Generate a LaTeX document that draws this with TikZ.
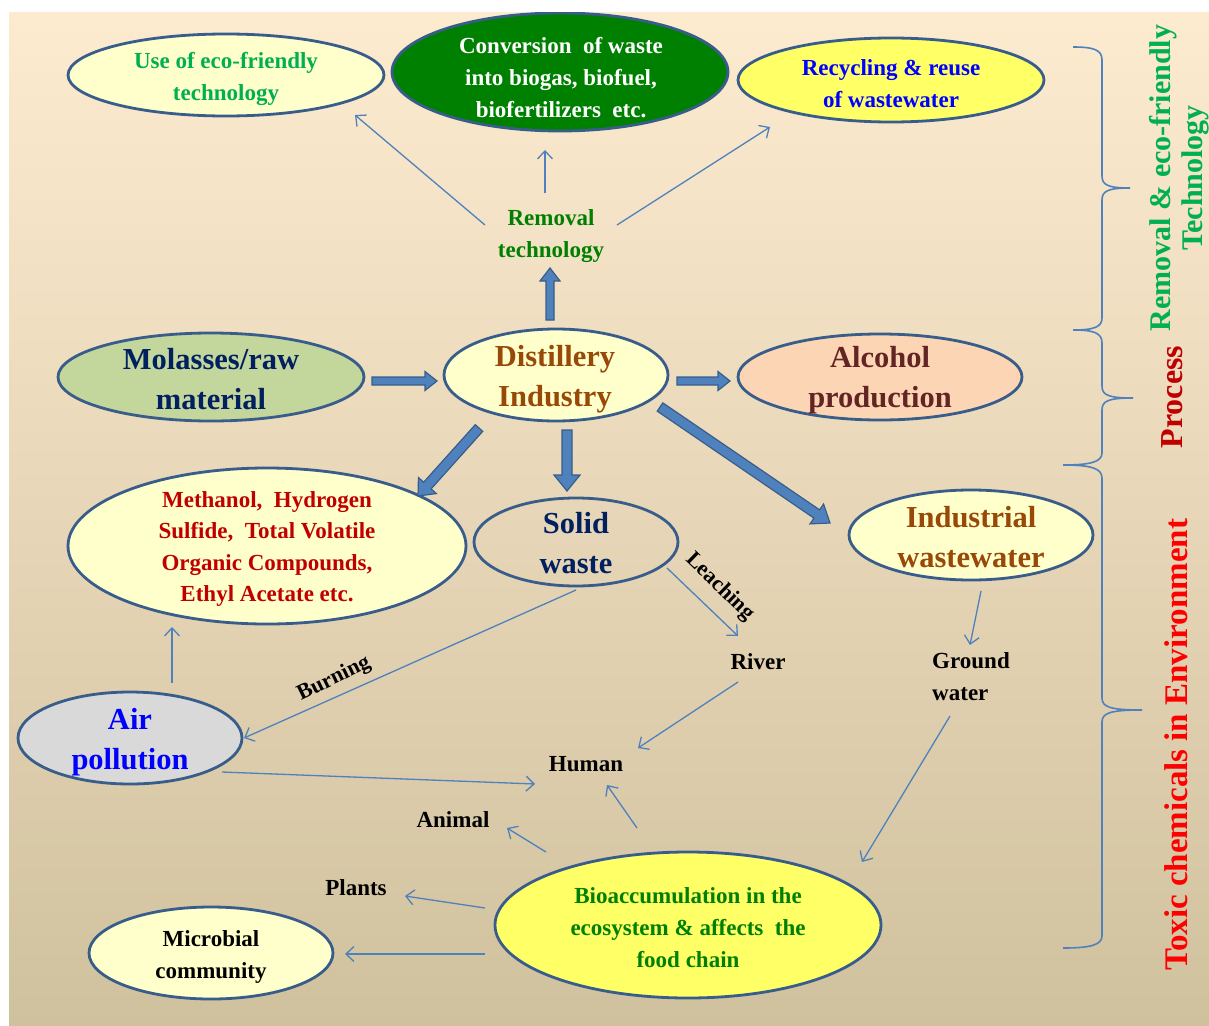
\documentclass[tikz,border=0pt]{standalone}
\usepackage{fontspec}
\setmainfont{Liberation Serif}
\usetikzlibrary{shapes.geometric,arrows.meta,calc}
\definecolor{lnc}{RGB}{79,129,189}
\definecolor{bord}{RGB}{56,93,138}
\definecolor{lyel}{RGB}{255,255,204}
\definecolor{yel}{RGB}{255,255,102}
\definecolor{dgreen}{RGB}{0,128,0}
\definecolor{ecog}{RGB}{0,176,80}
\definecolor{molg}{RGB}{195,214,155}
\definecolor{peach}{RGB}{252,213,181}
\definecolor{navyt}{RGB}{0,32,96}
\definecolor{brownd}{RGB}{152,72,7}
\definecolor{alct}{RGB}{99,37,35}
\definecolor{dred}{RGB}{192,0,0}
\definecolor{greyf}{RGB}{217,217,217}
\definecolor{bgtop}{RGB}{253,235,208}
\definecolor{bgmid}{RGB}{240,233,214}
\definecolor{bgbot}{RGB}{208,193,158}
\newcommand\fsA{\fontsize{23}{32}\selectfont\bfseries}
\newcommand\fsB{\fontsize{30.5}{40}\selectfont\bfseries}
\newcommand\fsC{\fontsize{22}{25}\selectfont\bfseries}
\newcommand\barrow[5]{%
  \path[barrowst] let \p1=(#1), \p2=(#2),
    \n1={atan2(\y2-\y1,\x2-\x1)},
    \n2={veclen(\x2-\x1,\y2-\y1)-#5pt},
    \n3={(#4-#3)*1pt} in
    ($(\p1)+(\n1+90:#3pt)$) -- ++(\n1:\n2) -- ++(\n1+90:\n3) -- (\p2)
    -- ($(\p1)+(\n1:\n2)+(\n1-90:#4pt)$) -- ++(\n1+90:\n3)
    -- ($(\p1)+(\n1-90:#3pt)$) -- cycle;}
\begin{document}
\begin{tikzpicture}[x=1pt,y=-1pt,
  ell/.style={ellipse, draw=bord, line width=2.8pt, inner sep=0pt},
  txt/.style={inner sep=0pt, align=center, font=\fsA},
  bigtxt/.style={inner sep=0pt, align=center, font=\fsB},
  thinarr/.style={draw=lnc, line width=1.3pt, -{Straight Barb[length=8pt,width=15pt]}},
  barrowst/.style={draw=bord, fill=lnc, line width=1.2pt, line join=miter},
  bracest/.style={draw=lnc, line width=1.6pt}]
\useasboundingbox (0,0) rectangle (1209,1025);
\fill[white] (0,0) rectangle (1209,1025);
\begin{scope}
\clip (9,13) rectangle (1209,1025);
\shade[top color=bgtop, middle color=bgmid, bottom color=bgbot] (9,13) rectangle (1209,1025);

% top ellipses
\node[ell, fill=lyel, minimum width=316pt, minimum height=82pt] (eco) at (226,75) {};
\node[txt, text=ecog] (ecot) at (226,79) {Use of eco-friendly\\technology};
\node[ell, fill=dgreen, minimum width=336pt, minimum height=118pt] (conv) at (560,72) {};
\node[txt, text=white] (convt) at (561,78) {Conversion~~of waste\\into biogas, biofuel,\\biofertilizers~~etc.};
\node[ell, fill=yel, minimum width=306pt, minimum height=84pt] (rec) at (891,80) {};
\node[txt, text=blue] (rect) at (891,84) {Recycling \& reuse\\of wastewater};
\node[txt, text=dgreen] (remt) at (551,236) {Removal\\technology};

% middle row
\node[ell, fill=molg, minimum width=306pt, minimum height=88pt] (mol) at (211,377) {};
\node[bigtxt, text=navyt] (molt) at (211,379) {Molasses/raw\\material};
\node[ell, fill=lyel, minimum width=224pt, minimum height=92pt] (dist) at (556,375) {};
\node[bigtxt, text=brownd] (distt) at (555,379) {Distillery\\Industry};
\node[ell, fill=peach, minimum width=284pt, minimum height=86pt] (alc) at (880,377) {};
\node[bigtxt, text=alct] (alct) at (880,380) {Alcohol\\production};

% lower
\node[ell, fill=lyel, minimum width=398pt, minimum height=156pt] (meth) at (267,546) {};
\node[txt, text=dred, font=\fontsize{23}{31.6}\selectfont\bfseries] (metht) at (267,549) {Methanol,~~Hydrogen\\Sulfide,~~Total Volatile\\Organic Compounds,\\Ethyl Acetate etc.};
\node[ell, minimum width=204pt, minimum height=88pt] (solid) at (576,542) {};
\node[bigtxt, text=navyt] (solidt) at (576,543) {Solid\\waste};
\node[ell, fill=lyel, minimum width=244pt, minimum height=90pt] (ind) at (971,535) {};
\node[bigtxt, text=brownd] (indt) at (971,537) {Industrial\\wastewater};
\node[ell, fill=greyf, minimum width=224pt, minimum height=92pt] (air) at (130,738) {};
\node[bigtxt, text=blue] (airt) at (130,742) {Air\\pollution};
\node[ell, fill=yel, minimum width=386pt, minimum height=146pt] (bio) at (688,925) {};
\node[txt, text=dgreen] (biot) at (688,928) {Bioaccumulation in the\\ecosystem \& affects~~the\\food chain};
\node[ell, fill=lyel, minimum width=244pt, minimum height=92pt] (mic) at (211,953) {};
\node[txt] (mict) at (211,957) {Microbial\\community};

\node[txt] (river) at (758,662) {River};
\node[txt, align=left] (ground) at (971,677) {Ground\\water};
\node[txt] (human) at (586,764) {Human};
\node[txt] (animal) at (453,820) {Animal};
\node[txt] (plants) at (356,888) {Plants};
\node[inner sep=0pt, font=\fsC, rotate=26] (burn) at (334,679) {Burning};
\node[inner sep=0pt, font=\fsC, rotate=-44] (leach) at (720,587) {Leaching};

% thin arrows
\draw[thinarr] ($(remt)+(-66,-11)$) -- ($(eco)+(129,40)$);
\draw[thinarr] ($(remt)+(-6,-43)$) -- ($(conv)+(-15,78)$);
\draw[thinarr] ($(remt)+(66,-11)$) -- ($(rec)+(-121,47)$);
\draw[thinarr] ($(air)+(42,-55)$) -- ($(meth)+(-95,81)$);
\draw[thinarr] ($(solid)+(0,48)$) -- ($(air)+(114,0)$);
\draw[thinarr] ($(solid)+(91,26)$) -- ($(river)+(-20,-26)$);
\draw[thinarr] ($(ind)+(10,56)$) -- ($(ground)+(-1,-32)$);
\draw[thinarr] ($(river)+(-20,20)$) -- ($(human)+(52,-16)$);
\draw[thinarr] ($(air)+(92,34)$) -- ($(human)+(-51,20)$);
\draw[thinarr] ($(ground)+(-21,39)$) -- ($(bio)+(174,-63)$);
\draw[thinarr] ($(bio)+(-51,-97)$) -- ($(human)+(21,21)$);
\draw[thinarr] ($(bio)+(-142,-73)$) -- ($(animal)+(54,8)$);
\draw[thinarr] ($(bio)+(-203,-17)$) -- ($(plants)+(49,8)$);
\draw[thinarr] ($(bio)+(-203,29)$) -- ($(mic)+(134,1)$);

% block arrows
\barrow{$(dist)+(-6,-55)$}{$(remt)+(-1,32)$}{4}{10}{13}
\barrow{$(mol)+(161,4)$}{$(dist)+(-119,6)$}{4}{9.5}{12}
\barrow{$(dist)+(121,6)$}{$(alc)+(-150,4)$}{4}{9.5}{12}
\barrow{$(dist)+(-77,53)$}{$(meth)+(151,-50)$}{5}{12}{14}
\barrow{$(dist)+(11,55)$}{$(solid)+(-9,-51)$}{5}{13}{16}
\barrow{$(dist)+(104,32)$}{$(ind)+(-141,-12)$}{5}{12}{16}

% braces
\draw[bracest] (1073,47) .. controls (1094,47) and (1102,50) .. (1102,60) -- (1102,176)
  .. controls (1102,185) and (1108,188) .. (1130,188)
  .. controls (1108,188) and (1102,191) .. (1102,200) -- (1102,318)
  .. controls (1102,327) and (1094,330) .. (1073,330);
\draw[bracest] (1073,330) .. controls (1094,330) and (1102,333) .. (1102,343) -- (1102,386)
  .. controls (1102,395) and (1108,398) .. (1133,398)
  .. controls (1108,398) and (1102,401) .. (1102,410) -- (1102,453)
  .. controls (1102,462) and (1090,465) .. (1063,465);
\draw[bracest] (1063,465) .. controls (1090,465) and (1102,468) .. (1102,478) -- (1102,698)
  .. controls (1102,707) and (1110,710) .. (1142,710)
  .. controls (1110,710) and (1102,713) .. (1102,722) -- (1102,936)
  .. controls (1102,945) and (1090,948) .. (1063,948);

% side labels
\node[txt, text=ecog, rotate=90, font=\fontsize{30}{32}\selectfont\bfseries] (sideA) at (1179,178) {Removal \& eco-friendly\\Technology};
\node[txt, text=dred, rotate=90, font=\fontsize{32}{36}\selectfont\bfseries] (sideB) at (1172,397) {Process};
\node[txt, text=red, rotate=90, font=\fontsize{33}{36}\selectfont\bfseries] (sideC) at (1176,745) {Toxic chemicals in Environment};
\end{scope}
\end{tikzpicture}
\end{document}
